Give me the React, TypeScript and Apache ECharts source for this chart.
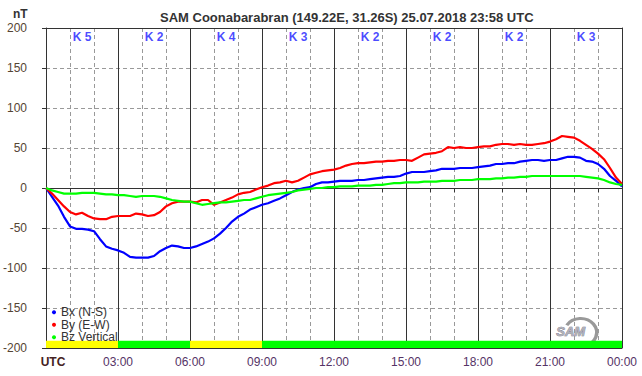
import React, { useEffect, useRef } from "react";
import * as echarts from "echarts";

const titleText = "SAM Coonabarabran (149.22E, 31.26S) 25.07.2018 23:58 UTC";
const seriesNames = ["Bx (N-S)", "By (E-W)", "Bz Vertical"];
const seriesColors = ["#0000ff", "#ff0000", "#00ff00"];

// sample times (hours UTC), every 15 minutes
const hours = Array.from({ length: 97 }, (_, i) => i * 0.25);

const bx = [
  0, -11, -22, -36, -48, -51, -51, -52, -54, -64, -73, -76,
  -78, -81, -86, -87, -87, -87, -85, -79, -75, -72, -73, -75,
  -75, -73, -70, -67, -63, -57, -50, -42, -36, -32, -27, -24,
  -21, -19, -16, -13, -9, -5, -2, 0, 1, 5, 7, 7,
  8, 9, 9, 9, 10, 10, 11, 12, 13, 14, 14, 15,
  18, 20, 20, 20, 21, 22, 24, 24, 24, 25, 25, 25,
  26, 27, 28, 30, 30, 31, 31, 33, 34, 35, 35, 34,
  35, 35, 37, 39, 39, 38, 34, 33, 30, 24, 15, 9,
  2,
];

const by = [
  0, -7, -15, -23, -30, -33, -31, -35, -38, -39, -39, -36,
  -35, -35, -35, -32, -33, -35, -34, -30, -23, -19, -17, -17,
  -17, -18, -15, -15, -21, -18, -15, -12, -8, -6, -5, -2,
  1, 3, 6, 7, 9, 7, 9, 13, 17, 19, 21, 22,
  23, 25, 28, 30, 31, 31, 32, 33, 33, 34, 34, 35,
  35, 34, 38, 42, 43, 44, 46, 51, 50, 51, 50, 50,
  51, 52, 52, 54, 55, 55, 54, 55, 54, 54, 55, 56,
  58, 61, 65, 64, 63, 59, 54, 49, 43, 36, 25, 13,
  5,
];

const bz = [
  0, -3, -5, -7, -7, -7, -6, -6, -6, -7, -8, -8,
  -9, -9, -10, -11, -10, -10, -10, -11, -13, -15, -16, -17,
  -17, -19, -21, -20, -19, -18, -18, -17, -16, -15, -15, -13,
  -11, -9, -8, -7, -6, -5, -3, -2, -1, 0, 0, 1,
  1, 2, 2, 2, 3, 3, 3, 4, 4, 5, 6, 6,
  7, 7, 7, 8, 8, 8, 9, 9, 9, 10, 10, 10,
  11, 11, 11, 12, 12, 13, 13, 14, 14, 15, 15, 15,
  15, 15, 15, 15, 15, 15, 14, 13, 12, 10, 7, 5,
  4,
];

// K index per 3-hour interval
const kValues = [5, 2, 4, 3, 2, 2, 2, 3];
// status band per 3-hour interval
const statusColors = ["#ffff00", "#00ff00", "#ffff00", "#00ff00", "#00ff00", "#00ff00", "#00ff00", "#00ff00"];
const xTickLabels = ["UTC", "03:00", "06:00", "09:00", "12:00", "15:00", "18:00", "21:00", "00:00"];

const FONT = "'Liberation Sans', Arial, sans-serif";

export default function App() {
  const ref = useRef<HTMLDivElement>(null);
  useEffect(() => {
    document.body.style.margin = "0";
    if (!ref.current) return;
    const chart = echarts.init(ref.current, null, { renderer: "svg" });
    const values = [bx, by, bz];

    const lineSeries = seriesNames.map((name, si) => ({
      name,
      type: "line",
      xAxisIndex: 0,
      yAxisIndex: 0,
      data: hours.map((h, i) => [h, values[si][i]]),
      showSymbol: false,
      symbol: "circle",
      symbolSize: 4,
      lineStyle: { color: seriesColors[si], width: 2.2 },
      itemStyle: { color: seriesColors[si] },
      z: 3 + si,
    }));

    const kSeries = {
      type: "scatter",
      xAxisIndex: 0,
      yAxisIndex: 0,
      symbolSize: 0,
      silent: true,
      data: kValues.map((k, i) => [1.5 + 3 * i, 189, k]),
      label: {
        show: true,
        position: "inside",
        formatter: (p: any) => "K " + p.value[2],
        color: "#1a1aff",
        fontFamily: FONT,
        fontSize: 12,
        fontWeight: "bold",
      },
      z: 6,
    };

    const bandSeries = {
      type: "line",
      xAxisIndex: 0,
      yAxisIndex: 0,
      data: [],
      silent: true,
      markArea: {
        silent: true,
        data: statusColors.map((c, i) => [
          { xAxis: 3 * i, yAxis: -200, itemStyle: { color: c, opacity: 1 } },
          { xAxis: 3 * i + 3, yAxis: -191 },
        ]),
      },
      z: 2,
    };

    chart.setOption({
      animation: false,
      backgroundColor: "#ffffff",
      textStyle: { fontFamily: FONT },
      title: {
        text: titleText,
        left: 155,
        top: 6,
        textStyle: { fontFamily: FONT, fontSize: 13, fontWeight: "bold", color: "#333333" },
      },
      legend: {
        data: seriesNames,
        orient: "vertical",
        left: 47,
        top: 301,
        icon: "circle",
        itemWidth: 4,
        itemHeight: 4,
        itemGap: 0,
        selectedMode: false,
        textStyle: { fontFamily: FONT, fontSize: 12, color: "#333333", lineHeight: 12.5 },
      },
      grid: { left: 45, right: 20, top: 28, bottom: 28, containLabel: false },
      xAxis: [
        {
          type: "value",
          min: 0,
          max: 24,
          interval: 1,
          axisLine: { show: true, lineStyle: { color: "#333333", width: 1 } },
          axisTick: { show: true, length: 4, lineStyle: { color: "#333333" } },
          axisLabel: {
            show: true,
            margin: 8,
            fontFamily: FONT,
            fontSize: 12,
            color: "#553366",
            formatter: (v: number) => {
              if (v % 3 !== 0) return "";
              const idx = v / 3;
              return idx === 0 ? "{u|" + xTickLabels[0] + "}" : xTickLabels[idx];
            },
            rich: { u: { fontFamily: FONT, fontSize: 12, fontWeight: "bold", color: "#442222", padding: [0, 0, 0, 14] } },
          },
          splitLine: { show: true, lineStyle: { color: "#999999", type: [4, 3], width: 1 } },
        },
        {
          type: "value",
          position: "top",
          min: 0,
          max: 24,
          interval: 3,
          axisLine: { show: true, onZero: false, lineStyle: { color: "#333333", width: 1 } },
          axisTick: { show: false },
          axisLabel: { show: false },
          splitLine: { show: true, lineStyle: { color: "#333333", type: "solid", width: 1 } },
        },
      ],
      yAxis: [
        {
          type: "value",
          min: -200,
          max: 200,
          interval: 50,
          axisLine: { show: true, lineStyle: { color: "#333333", width: 1 } },
          axisTick: { show: true, length: 4, lineStyle: { color: "#333333" } },
          axisLabel: { fontFamily: FONT, fontSize: 12, color: "#554433", margin: 19 },
          splitLine: { show: true, lineStyle: { color: "#999999", type: [4, 3], width: 1 } },
        },
        {
          type: "value",
          position: "right",
          min: -200,
          max: 200,
          interval: 200,
          axisLine: { show: true, onZero: false, lineStyle: { color: "#333333", width: 1 } },
          axisTick: { show: false },
          axisLabel: { show: false },
          splitLine: { show: true, lineStyle: { color: "#333333", type: "solid", width: 1 } },
        },
      ],
      graphic: [
        {
          type: "text",
          left: 13,
          top: 8,
          style: { text: "nT", fontFamily: FONT, fontSize: 12, fontWeight: "bold", fill: "#333333" },
        },
        {
          type: "group",
          left: 556,
          top: 316,
          children: [
            {
              type: "arc",
              shape: { cx: 22, cy: 12, r: 14, startAngle: -2.6, endAngle: 1.3 },
              scaleX: 1.15,
              style: { stroke: "#999999", lineWidth: 3, fill: null },
            },
            {
              type: "text",
              x: 1,
              y: 4,
              style: { text: "SAM", fontFamily: FONT, fontSize: 13, fontStyle: "italic", fontWeight: "bold", fill: "#b0b0b8", stroke: "#6a6a80", lineWidth: 0.6 },
            },
          ],
        },
      ],
      series: [bandSeries, ...lineSeries, kSeries],
    });
    return () => chart.dispose();
  }, []);
  return <div ref={ref} style={{ width: 642, height: 376 }} />;
}
